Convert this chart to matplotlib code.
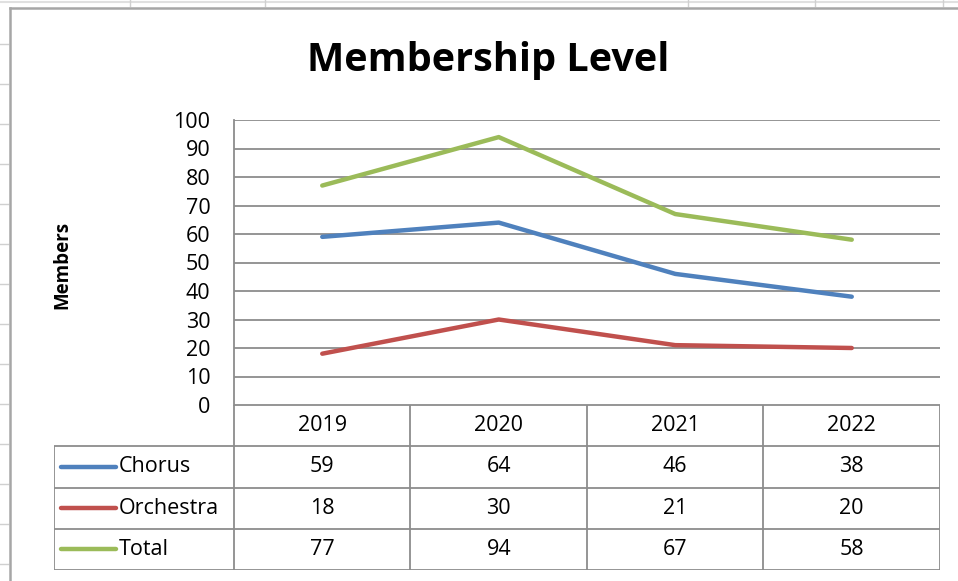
import matplotlib.pyplot as plt
from matplotlib.lines import Line2D

# chart data
years = ["2019", "2020", "2021", "2022"]
series_names = ["Chorus", "Orchestra", "Total"]
chorus = [59, 64, 46, 38]
orchestra = [18, 30, 21, 20]
total = [77, 94, 67, 58]
colors = ["#4F81BD", "#C0504D", "#9BBB59"]

W, H = 958, 581
plt.rcParams["font.family"] = ["Open Sans", "DejaVu Sans"]
fig = plt.figure(figsize=(W / 100, H / 100), dpi=100)


def fx(px):
    return px / W


def fy(py):
    return 1 - py / H


grid_col = "#8C8C8C"
fs = 15.5

# faint spreadsheet lines behind the chart object
fig.add_artist(Line2D([0, 1], [fy(2), fy(2)], color="#E0E0E0", lw=1.5))
for py in range(44, 581, 40):
    fig.add_artist(Line2D([0, fx(8)], [fy(py), fy(py)], color="#D0D0D0", lw=1))
for px in [130, 265, 688, 815, 943]:
    fig.add_artist(Line2D([fx(px), fx(px)], [fy(0), fy(6)], color="#D0D0D0", lw=1))

# chart area border
fig.add_artist(Line2D([fx(10), fx(10)], [fy(8), 0], color="#A6A6A6", lw=1.8))
fig.add_artist(Line2D([fx(10), 1], [fy(8), fy(8)], color="#A6A6A6", lw=1.8))

# plot area
left, right, top, bottom = 234, 940, 120, 405
ax = fig.add_axes([fx(left), fy(bottom), fx(right - left), (bottom - top) / H])
ax.set_xlim(0, len(years))
ax.set_ylim(0, 100)
ax.set_yticks(range(0, 101, 10))
ax.set_xticks([])
ax.tick_params(axis="y", length=0, pad=17, labelsize=fs)
ax.grid(axis="y", color=grid_col, lw=1.3)
ax.set_axisbelow(True)
for side in ["top", "right", "bottom"]:
    ax.spines[side].set_visible(False)
ax.spines["left"].set_color(grid_col)
ax.spines["left"].set_linewidth(1.3)

xs = [i + 0.5 for i in range(len(years))]
for vals, c in zip([chorus, orchestra, total], colors):
    ax.plot(xs, vals, color=c, lw=3.2, solid_capstyle="round", zorder=3)

fig.text(fx(488), fy(60), "Membership Level", ha="center", va="center",
         fontsize=28.5, fontweight="bold")
fig.text(fx(62), fy(265), "Members", ha="center", va="center",
         rotation=90, fontsize=13.5, fontweight="bold")

# data table below the plot
tleft, tbottom = 54, 570
unit = (right - left) / len(years)
x0 = -(left - tleft) / unit
tax = fig.add_axes([fx(tleft), fy(tbottom), fx(right - tleft), (tbottom - bottom) / H])
tax.set_xlim(x0, len(years))
tax.set_ylim(4, 0)
tax.axis("off")

lc = dict(color=grid_col, lw=1.3, solid_capstyle="butt")
tax.plot([0, len(years)], [0, 0], **lc)
for r in [1, 2, 3, 4]:
    tax.plot([x0, len(years)], [r, r], **lc)
tax.plot([x0, x0], [1, 4], **lc)
for c in range(0, len(years) + 1):
    tax.plot([c, c], [0, 4], **lc)

for i, yr in enumerate(years):
    tax.text(i + 0.5, 0.5, yr, ha="center", va="center", fontsize=fs)

for r, (name, vals, c) in enumerate(zip(series_names, [chorus, orchestra, total], colors), start=1):
    tax.plot([x0 + 0.04, x0 + 0.35], [r + 0.5, r + 0.5], color=c, lw=3.2,
             solid_capstyle="round")
    tax.text(x0 + 0.365, r + 0.5, name, ha="left", va="center", fontsize=fs)
    for i, v in enumerate(vals):
        tax.text(i + 0.5, r + 0.5, str(v), ha="center", va="center", fontsize=fs)

fig.savefig("out.png", dpi=100)
